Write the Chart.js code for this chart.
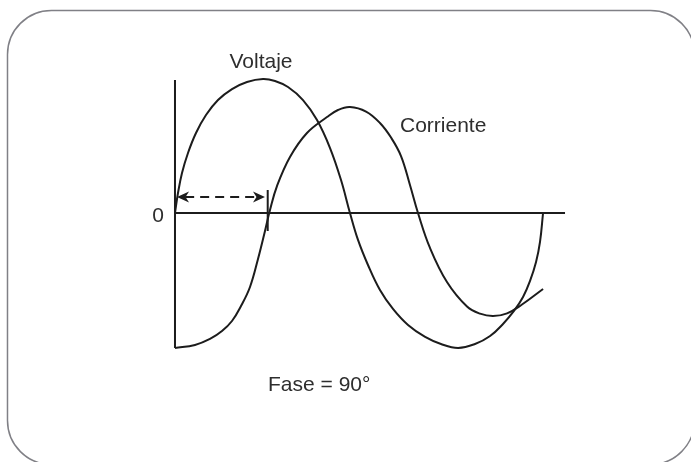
<!DOCTYPE html>
<html>
<head>
<meta charset="utf-8">
<script src="https://cdn.jsdelivr.net/npm/chart.js@4.4.1/dist/chart.umd.min.js"></script>
<style>
  html, body { margin: 0; padding: 0; background: #ffffff; overflow: hidden; }
  canvas { display: block; }
</style>
</head>
<body>
<canvas id="c" width="691" height="462"></canvas>
<script>
// ---- Data (x in degrees of phase, y in units of peak amplitude) ----
const voltageX = [0, 2.95, 6.89, 12.79, 20.65, 30.49, 42.29, 56.06, 70.82, 86.56, 98.37, 111.15, 125.9, 139.7, 152.5, 163.3, 172.1, 180.0, 189.8, 201.6, 214.4, 229.2, 246.0, 261.6, 278.4, 295.1, 309.9, 322.6, 333.4, 342.3, 349.2, 355.1, 359.0, 362.0];
const voltageY = [0, 0.149, 0.299, 0.448, 0.597, 0.731, 0.843, 0.925, 0.978, 1.0, 0.985, 0.940, 0.843, 0.694, 0.485, 0.246, 0, -0.201, -0.388, -0.575, -0.716, -0.836, -0.925, -0.978, -1.007, -0.978, -0.918, -0.828, -0.731, -0.627, -0.507, -0.366, -0.216, 0];

const currentX = [0, 19.67, 34.42, 46.23, 56.06, 64.92, 73.77, 81.64, 88.52, 93.44, 100.3, 113.1, 129.8, 149.5, 160.3, 172.1, 187.9, 201.6, 212.5, 222.3, 231.1, 239.0, 250.8, 267.5, 287.2, 300.0, 312.8, 326.6, 341.3, 362.0];
const currentY = [-1.007, -0.985, -0.940, -0.881, -0.806, -0.694, -0.552, -0.343, -0.134, 0.022, 0.201, 0.418, 0.597, 0.716, 0.769, 0.791, 0.757, 0.672, 0.563, 0.425, 0.209, 0, -0.261, -0.515, -0.698, -0.751, -0.769, -0.749, -0.683, -0.567];

const axisLimits = { xStart: 0, xEnd: 383.6, yTop: 0.993, yBottom: -1.007 };
const phaseShift = [2, 88.5];      // dashed arrow from/to (degrees)
const phaseArrowLevel = 0.119;      // height of the arrow
const phaseTick = [0.172, -0.134];  // tick mark extent at the current zero-crossing
const phaseTickX = 91.2;

const labels = [
  { text: 'Voltaje',    x: 84.6,  y: 1.082,  align: 'center' },
  { text: 'Corriente',  x: 221.3, y: 0.604,  align: 'left' },
  { text: '0',          x: -16.7, y: -0.067, align: 'center' },
  { text: 'Fase = 90°', x: 91.5,  y: -1.328, align: 'left' }
];

const toPts = (xs, ys) => xs.map((x, i) => ({ x: x, y: ys[i] }));

const INK = '#1c1c1c';

const decor = {
  id: 'decor',
  beforeDraw(chart) {
    const ctx = chart.ctx;
    ctx.save();
    ctx.fillStyle = '#ffffff';
    ctx.fillRect(0, 0, chart.width, chart.height);
    ctx.strokeStyle = '#808086';
    ctx.lineWidth = 1.5;
    ctx.beginPath();
    ctx.roundRect(7.5, 10.5, 687, 454, 44);
    ctx.stroke();
    ctx.restore();
  },
  afterDatasetsDraw(chart) {
    const ctx = chart.ctx;
    const xs = chart.scales.x, ys = chart.scales.y;
    ctx.save();
    const ay = ys.getPixelForValue(phaseArrowLevel);
    const x0 = xs.getPixelForValue(phaseShift[0]);
    const x1 = xs.getPixelForValue(phaseShift[1]);
    const head = (tx, dir) => {
      const L = 12, W = 5.5, back = 3.5;
      ctx.beginPath();
      ctx.moveTo(tx, ay);
      ctx.lineTo(tx + dir * L, ay - W);
      ctx.lineTo(tx + dir * (L - back), ay);
      ctx.lineTo(tx + dir * L, ay + W);
      ctx.closePath();
      ctx.fillStyle = INK;
      ctx.fill();
    };
    head(x0, 1);
    head(x1, -1);
    ctx.fillStyle = '#2e2e2e';
    ctx.font = '21px "Liberation Sans", Arial, sans-serif';
    ctx.textBaseline = 'alphabetic';
    labels.forEach(l => {
      ctx.textAlign = l.align;
      ctx.fillText(l.text, xs.getPixelForValue(l.x), ys.getPixelForValue(l.y));
    });
    ctx.restore();
  }
};

const lineDs = (data, extra) => Object.assign({
  data: data,
  showLine: true,
  pointRadius: 0,
  borderColor: INK,
  borderWidth: 2,
  fill: false,
  tension: 0
}, extra || {});

new Chart(document.getElementById('c'), {
  type: 'scatter',
  data: {
    datasets: [
      lineDs([{ x: axisLimits.xStart, y: axisLimits.yTop }, { x: axisLimits.xStart, y: axisLimits.yBottom }]),
      lineDs([{ x: axisLimits.xStart, y: 0 }, { x: axisLimits.xEnd, y: 0 }]),
      lineDs([{ x: phaseTickX, y: phaseTick[0] }, { x: phaseTickX, y: phaseTick[1] }]),
      lineDs([{ x: phaseShift[0] + 8, y: phaseArrowLevel }, { x: phaseShift[1] - 8, y: phaseArrowLevel }], { borderDash: [9, 6] }),
      lineDs(toPts(voltageX, voltageY), { tension: 0.4 }),
      lineDs(toPts(currentX, currentY), { tension: 0.4 })
    ]
  },
  options: {
    responsive: false,
    animation: false,
    layout: { padding: 0 },
    plugins: { legend: { display: false }, tooltip: { enabled: false } },
    scales: {
      x: { type: 'linear', min: -172.1, max: 507.5, display: false },
      y: { type: 'linear', min: -1.8582, max: 1.5896, display: false }
    }
  },
  plugins: [decor]
});
</script>
</body>
</html>
